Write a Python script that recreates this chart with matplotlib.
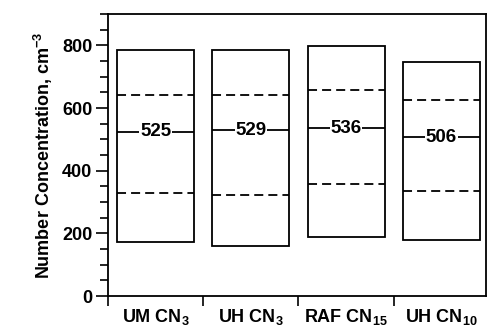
import numpy as np
import matplotlib
matplotlib.use("Agg")
import matplotlib.pyplot as plt
from matplotlib.ticker import MultipleLocator, FixedLocator, NullFormatter

plt.rcParams['font.family'] = ['Liberation Sans', 'DejaVu Sans']
plt.rcParams['font.weight'] = 'bold'
plt.rcParams['axes.labelweight'] = 'bold'
plt.rcParams['mathtext.default'] = 'regular'

# box statistics (cm^-3)
labels = ['UM CN$_3$', 'UH CN$_3$', 'RAF CN$_{15}$', 'UH CN$_{10}$']
low = [172, 160, 187, 179]
q1 = [328, 323, 359, 336]
med = [525, 529, 536, 506]
q3 = [643, 640, 656, 624]
high = [785, 785, 798, 746]

fig = plt.figure(figsize=(4.87, 3.33), dpi=100)
ax = fig.add_axes([0.222, 0.111, 0.776, 0.847])

half = 0.405
for i in range(len(labels)):
    c = i + 0.5
    ax.add_patch(plt.Rectangle((c - half, low[i]), 2 * half, high[i] - low[i],
                               fill=False, edgecolor='black', lw=1.3))
    ax.hlines([q1[i], q3[i]], c - half, c + half, colors='black', lw=1.3,
              linestyles=(0, (5, 2.8)))
    ax.hlines(med[i], c - half, c + half, colors='black', lw=1.3)
    ax.text(c, med[i], str(med[i]), ha='center', va='center', fontsize=13.5,
            bbox=dict(facecolor='white', edgecolor='none', pad=0.6))

ax.set_xlim(0, 3.97)
ax.set_ylim(0, 900)

ax.yaxis.set_major_locator(FixedLocator([0, 200, 400, 600, 800]))
ax.yaxis.set_minor_locator(MultipleLocator(50))
ax.tick_params(axis='y', which='major', direction='out', length=8.5, width=1.2,
               labelsize=13, pad=3)
ax.tick_params(axis='y', which='minor', direction='out', length=5.5, width=1.2)

ax.xaxis.set_major_locator(FixedLocator([0, 1, 2, 3]))
ax.xaxis.set_major_formatter(NullFormatter())
ax.xaxis.set_minor_locator(FixedLocator([0.5, 1.5, 2.5, 3.5]))
ax.set_xticklabels(labels, minor=True)
ax.tick_params(axis='x', which='major', direction='out', length=7, width=1.2)
ax.tick_params(axis='x', which='minor', length=0, labelsize=13, pad=8)

for s in ax.spines.values():
    s.set_linewidth(1.3)

ax.set_ylabel('Number Concentration, cm$^{-3}$', fontsize=13, labelpad=5)

fig.savefig('out.png', dpi=100)
